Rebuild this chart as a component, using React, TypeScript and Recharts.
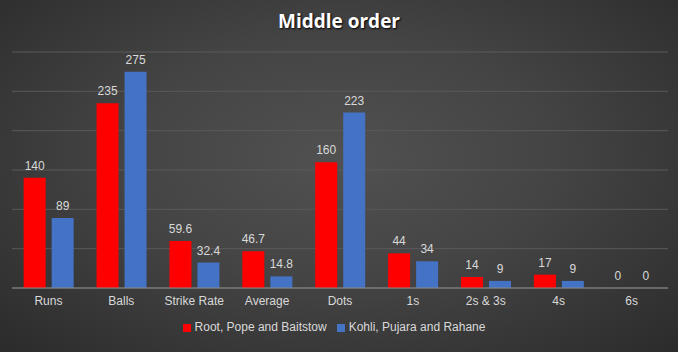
import { BarChart, Bar, XAxis, YAxis, CartesianGrid, Legend, LabelList } from 'recharts'

// 中盤打者比較（Middle order）
const categories = ['Runs', 'Balls', 'Strike Rate', 'Average', 'Dots', '1s', '2s & 3s', '4s', '6s']
const rootPopeBairstow = [140, 235, 59.6, 46.7, 160, 44, 14, 17, 0]
const kohliPujaraRahane = [89, 275, 32.4, 14.8, 223, 34, 9, 9, 0]
const yTicks = [0, 50, 100, 150, 200, 250, 300]

const ENG = 'Root, Pope and Baitstow'
const IND = 'Kohli, Pujara and Rahane'
const RED = '#ff0000'
const BLUE = '#4472c4'
const FONT = '"Liberation Sans", Arial, sans-serif'
const SERIES_ORDER = [ENG, IND]

const chartData = categories.map((c, i) => ({ name: c, [ENG]: rootPopeBairstow[i], [IND]: kohliPujaraRahane[i] }))

// 0 の値でもラベルを出す
const renderValue = (props: any) => {
  const { x, y, width, value } = props
  return (
    <text
      x={Number(x) + Number(width) / 2}
      y={Number(y) - 8}
      textAnchor="middle"
      fill="#d9d9d9"
      fontSize={12}
      fontFamily={FONT}
    >
      {value}
    </text>
  )
}

export default function App() {
  return (
    <div
      style={{
        position: 'absolute',
        top: 0,
        left: 0,
        width: 678,
        height: 352,
        background: 'radial-gradient(ellipse at 50% 45%, #515151 0%, #444 45%, #2b2b2b 100%)',
        fontFamily: FONT,
      }}
    >
      <div
        style={{
          position: 'absolute',
          top: 8,
          width: 678,
          textAlign: 'center',
          color: '#fff',
          fontSize: 19,
          fontWeight: 'bold',
          fontFamily: '"Open Sans", sans-serif',
          textShadow: '1px 1px 2px #000',
        }}
      >
        Middle order
      </div>
      <BarChart
        width={678}
        height={352}
        data={chartData}
        margin={{ top: 52, right: 10, left: 12, bottom: 40 }}
        barCategoryGap="16%"
        barGap={6}
      >
        <CartesianGrid vertical={false} stroke="#5a5a5a" />
        <YAxis hide domain={[0, 300]} ticks={yTicks} />
        <XAxis
          dataKey="name"
          height={24}
          tickLine={false}
          axisLine={{ stroke: '#8a8a8a' }}
          tick={{ fill: '#d9d9d9', fontSize: 12, fontFamily: FONT }}
          interval={0}
        />
        <Legend
          layout="horizontal"
          verticalAlign="middle"
          align="center"
          iconType="square"
          iconSize={8}
          itemSorter={(item: any) => SERIES_ORDER.indexOf(item.dataKey)}
          wrapperStyle={{ top: 320, left: 0, width: 678, fontSize: 12, fontFamily: FONT }}
          formatter={(v) => <span style={{ color: '#d9d9d9' }}>{v}</span>}
        />
        <Bar dataKey={ENG} fill={RED} minPointSize={0.01} isAnimationActive={false}>
          <LabelList dataKey={ENG} content={renderValue} />
        </Bar>
        <Bar dataKey={IND} fill={BLUE} minPointSize={0.01} isAnimationActive={false}>
          <LabelList dataKey={IND} content={renderValue} />
        </Bar>
      </BarChart>
    </div>
  )
}
